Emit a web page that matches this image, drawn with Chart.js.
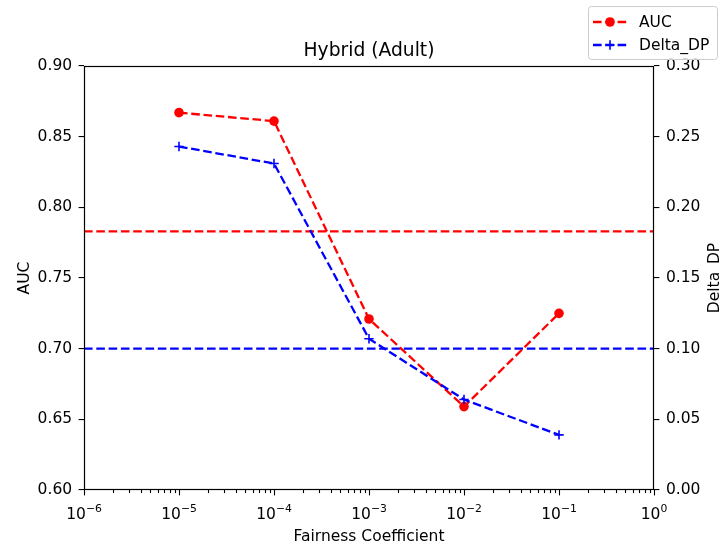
<!DOCTYPE html>
<html>
<head>
<meta charset="utf-8">
<script src="https://cdn.jsdelivr.net/npm/chart.js@4"></script>
<style>
  html, body { margin: 0; padding: 0; background: #ffffff; }
  #wrap { width: 720px; height: 548px; }
  canvas { display: block; }
</style>
</head>
<body>
<div id="wrap"><canvas id="c" width="720" height="548"></canvas></div>
<script>
// ---- data ----
const fairnessCoefficients = [1e-5, 1e-4, 1e-3, 1e-2, 1e-1];
const aucValues = [0.867, 0.861, 0.721, 0.659, 0.725];
const deltaDpValues = [0.243, 0.231, 0.107, 0.064, 0.039];
const aucReference = 0.783;
const deltaDpReference = 0.100;
const xRange = [1e-6, 1];
const xTickExponents = [-6, -5, -4, -3, -2, -1, 0];
const aucRange = [0.60, 0.90];
const deltaDpRange = [0.00, 0.30];
const yTickStep = 0.05;
const chartTitle = 'Hybrid (Adult)';
const xTitle = 'Fairness Coefficient';
const yTitle = 'AUC';
const y2Title = 'Delta_DP';
const seriesNames = ['AUC', 'Delta_DP'];

const FONT = '"DejaVu Sans", sans-serif';
const TICK_PX = 15.5;
const LW = 2.3;
const DASH = [8.6, 3.7];
const RED = '#ff0000';
const BLUE = '#0000ff';

function pts(xs, ys) { return xs.map((x, i) => ({ x: x, y: ys[i] })); }

const decorPlugin = {
  id: 'decor',
  afterDraw(chart) {
    const ctx = chart.ctx;
    const a = chart.chartArea;
    const xs = chart.scales.x;
    ctx.save();
    // frame
    ctx.strokeStyle = '#000';
    ctx.lineWidth = 1.2;
    ctx.strokeRect(Math.round(a.left) + 0.5, Math.round(a.top) + 0.5,
      Math.round(a.right - a.left) - 1, Math.round(a.bottom - a.top) - 1);
    // x ticks (major + minor)
    ctx.lineWidth = 1.1;
    const yb = Math.round(a.bottom);
    xTickExponents.forEach(e => {
      const px = Math.round(xs.getPixelForValue(Math.pow(10, e))) + 0.5;
      ctx.beginPath(); ctx.moveTo(px, yb); ctx.lineTo(px, yb + 5.4); ctx.stroke();
      if (e < xTickExponents[xTickExponents.length - 1]) {
        for (let k = 2; k <= 9; k++) {
          const mx = Math.round(xs.getPixelForValue(k * Math.pow(10, e))) + 0.5;
          ctx.beginPath(); ctx.moveTo(mx, yb); ctx.lineTo(mx, yb + 3.1); ctx.stroke();
        }
      }
    });
    // x tick labels 10^e
    ctx.fillStyle = '#000';
    ctx.textBaseline = 'alphabetic';
    ctx.textAlign = 'left';
    const baseFont = TICK_PX + 'px ' + FONT;
    const supFont = (TICK_PX * 0.7).toFixed(1) + 'px ' + FONT;
    xTickExponents.forEach(e => {
      const px = xs.getPixelForValue(Math.pow(10, e));
      const sup = (e < 0 ? '\u2212' : '') + Math.abs(e);
      ctx.font = baseFont; const w1 = ctx.measureText('10').width;
      ctx.font = supFont; const w2 = ctx.measureText(sup).width;
      const x0 = px - (w1 + w2) / 2;
      ctx.font = baseFont; ctx.fillText('10', x0, 518.5);
      ctx.font = supFont; ctx.fillText(sup, x0 + w1, 512);
    });
    // axis titles
    ctx.font = TICK_PX + 'px ' + FONT;
    ctx.textAlign = 'center';
    ctx.fillText(xTitle, (a.left + a.right) / 2, 541);
    const cy = (a.top + a.bottom) / 2;
    ctx.save(); ctx.translate(28.5, cy); ctx.rotate(-Math.PI / 2);
    ctx.fillText(yTitle, 0, 0); ctx.restore();
    ctx.save(); ctx.translate(719, cy); ctx.rotate(-Math.PI / 2);
    ctx.fillText(y2Title, 0, 0); ctx.restore();
    // chart title
    ctx.font = '18.7px ' + FONT;
    ctx.fillText(chartTitle, (a.left + a.right) / 2, 56);
    // legend
    const bx = 588.5, by = 6.5, bw = 129, bh = 53, r = 3;
    ctx.beginPath();
    ctx.moveTo(bx + r, by); ctx.lineTo(bx + bw - r, by); ctx.quadraticCurveTo(bx + bw, by, bx + bw, by + r);
    ctx.lineTo(bx + bw, by + bh - r); ctx.quadraticCurveTo(bx + bw, by + bh, bx + bw - r, by + bh);
    ctx.lineTo(bx + r, by + bh); ctx.quadraticCurveTo(bx, by + bh, bx, by + bh - r);
    ctx.lineTo(bx, by + r); ctx.quadraticCurveTo(bx, by, bx + r, by);
    ctx.closePath();
    ctx.fillStyle = 'rgba(255,255,255,0.8)'; ctx.fill();
    ctx.strokeStyle = '#cccccc'; ctx.lineWidth = 1; ctx.stroke();
    const legendDs = chart.data.datasets.filter(d => d.inLegend)
      .sort((p, q) => seriesNames.indexOf(p.label) - seriesNames.indexOf(q.label));
    legendDs.forEach((d, i) => {
      const ly = 22 + i * 23;
      ctx.strokeStyle = d.borderColor; ctx.lineWidth = LW; ctx.setLineDash(DASH);
      ctx.beginPath(); ctx.moveTo(593, ly); ctx.lineTo(627, ly); ctx.stroke();
      ctx.setLineDash([]);
      if (d.pointStyle === 'circle') {
        ctx.fillStyle = d.borderColor;
        ctx.beginPath(); ctx.arc(610, ly, d.pointRadius, 0, Math.PI * 2); ctx.fill();
      } else {
        ctx.lineWidth = d.pointBorderWidth;
        ctx.beginPath();
        ctx.moveTo(610 - d.pointRadius, ly); ctx.lineTo(610 + d.pointRadius, ly);
        ctx.moveTo(610, ly - d.pointRadius); ctx.lineTo(610, ly + d.pointRadius);
        ctx.stroke();
      }
      ctx.fillStyle = '#000';
      ctx.font = TICK_PX + 'px ' + FONT;
      ctx.textAlign = 'left'; ctx.textBaseline = 'alphabetic';
      ctx.fillText(d.label, 639, ly + 5.3);
    });
    ctx.restore();
  }
};

const yCommon = {
  type: 'linear',
  grid: { drawOnChartArea: false, drawTicks: true, tickLength: 5.4, color: '#000', lineWidth: 1.1 },
  border: { display: false },
  ticks: {
    stepSize: yTickStep, padding: 6.5, color: '#000',
    font: { family: FONT, size: TICK_PX },
    callback: v => Number(v).toFixed(2)
  }
};

new Chart(document.getElementById('c'), {
  type: 'line',
  data: {
    datasets: [
      {
        label: seriesNames[1], inLegend: true, yAxisID: 'y2',
        data: pts(fairnessCoefficients, deltaDpValues),
        borderColor: BLUE, backgroundColor: BLUE, borderWidth: LW, borderDash: DASH,
        pointStyle: 'cross', pointRadius: 4.7, pointBorderWidth: 1.6,
        pointBorderColor: BLUE, pointBackgroundColor: BLUE, fill: false, tension: 0
      },
      {
        label: seriesNames[0], inLegend: true, yAxisID: 'y',
        data: pts(fairnessCoefficients, aucValues),
        borderColor: RED, backgroundColor: RED, borderWidth: LW, borderDash: DASH,
        pointStyle: 'circle', pointRadius: 4.8, pointBorderWidth: 0,
        pointBackgroundColor: RED, pointBorderColor: RED, fill: false, tension: 0
      },
      {
        label: 'AUC reference', inLegend: false, yAxisID: 'y',
        data: pts(xRange, [aucReference, aucReference]),
        borderColor: RED, borderWidth: LW, borderDash: DASH, pointRadius: 0, fill: false
      },
      {
        label: 'Delta_DP reference', inLegend: false, yAxisID: 'y2',
        data: pts(xRange, [deltaDpReference, deltaDpReference]),
        borderColor: BLUE, borderWidth: LW, borderDash: DASH, pointRadius: 0, fill: false
      }
    ]
  },
  options: {
    responsive: false,
    animation: false,
    devicePixelRatio: 1,
    layout: { padding: { top: 66, left: 0, right: 0, bottom: 0 } },
    plugins: { legend: { display: false }, title: { display: false }, tooltip: { enabled: false } },
    scales: {
      x: {
        type: 'logarithmic', min: xRange[0], max: xRange[1],
        grid: { display: false }, border: { display: false },
        ticks: { display: false },
        afterFit: s => { s.height = 58; }
      },
      y: Object.assign({}, yCommon, {
        position: 'left', min: aucRange[0], max: aucRange[1],
        afterFit: s => { s.width = 84; }
      }),
      y2: Object.assign({}, yCommon, {
        position: 'right', min: deltaDpRange[0], max: deltaDpRange[1],
        afterFit: s => { s.width = 66; }
      })
    }
  },
  plugins: [decorPlugin]
});
</script>
</body>
</html>
